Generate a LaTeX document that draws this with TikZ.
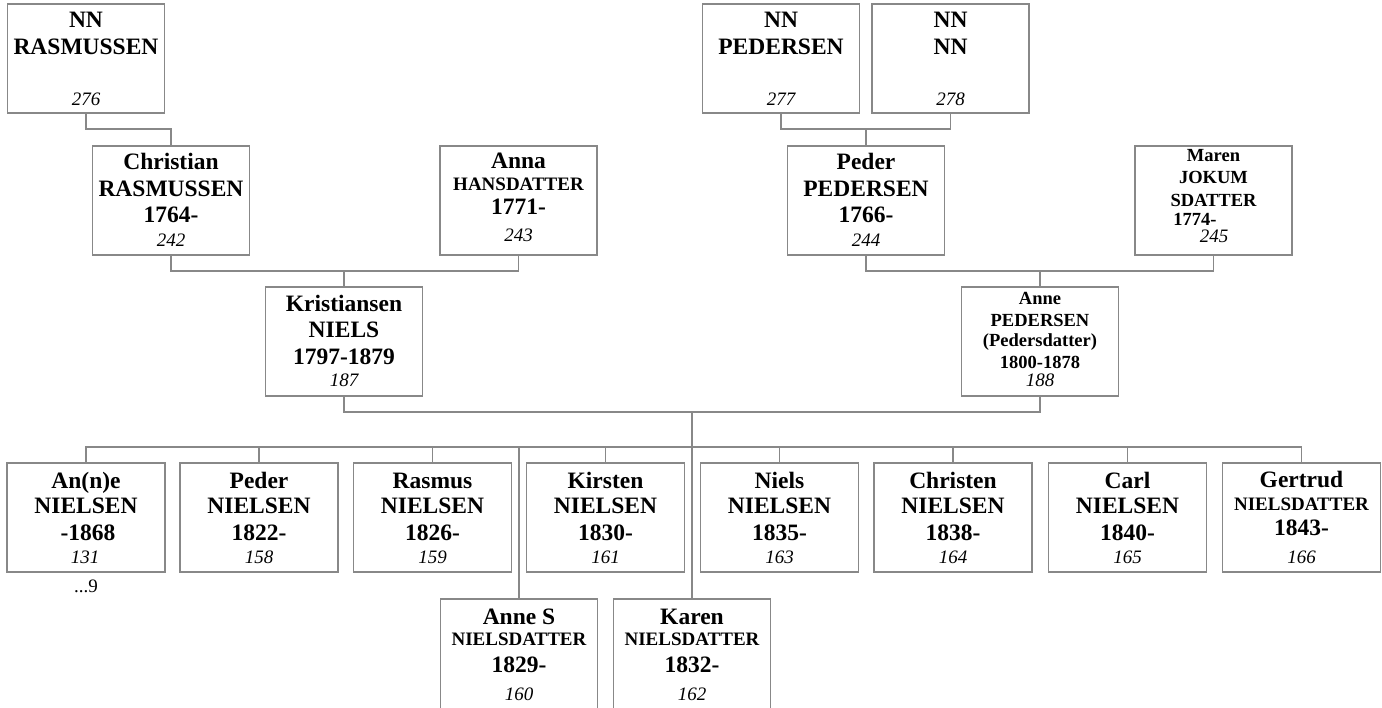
\documentclass[tikz,border=0pt]{standalone}
\usepackage{fontspec}
\setmainfont{Liberation Serif}
\definecolor{linegray}{RGB}{136,136,136}
\newcounter{tlc}
\newcommand\tline[4]{\stepcounter{tlc}\node[txt,#3] (tl\arabic{tlc}) at (#1,#2) {#4};}
\begin{document}
\begin{tikzpicture}[x=1pt,y=-1pt,
  box/.style={draw=linegray,line width=1.4pt,minimum width=157pt,minimum height=109pt,inner sep=0pt,outer sep=0pt,anchor=north},
  conn/.style={draw=linegray,line width=1.4pt},
  txt/.style={anchor=base,inner sep=0pt},
  big/.style={font=\fontsize{23.5}{26}\selectfont\bfseries},
  sm/.style={font=\fontsize{19}{22}\selectfont\bfseries},
  xs/.style={font=\fontsize{18.5}{21}\selectfont\bfseries},
  num/.style={font=\fontsize{19}{22}\selectfont\itshape},
  plain/.style={font=\fontsize{19}{22}\selectfont}]
\useasboundingbox (0,0) rectangle (1382,708);
\begin{scope}
\clip (0,0) rectangle (1382,708);
% boxes
\node[box] (p276) at (86,4) {};
\node[box] (p277) at (781,4) {};
\node[box] (p278) at (950.5,4) {};
\node[box] (p242) at (171,146) {};
\node[box] (p243) at (518.5,146) {};
\node[box] (p244) at (866,146) {};
\node[box] (p245) at (1213.5,146) {};
\node[box] (p187) at (344,287) {};
\node[box] (p188) at (1040,287) {};
\node[box,minimum width=158pt] (p131) at (86,463) {};
\node[box,minimum width=158pt] (p158) at (259,463) {};
\node[box,minimum width=158pt] (p159) at (432.5,463) {};
\node[box,minimum width=158pt] (p161) at (605.5,463) {};
\node[box,minimum width=158pt] (p163) at (779.5,463) {};
\node[box,minimum width=158pt] (p164) at (953,463) {};
\node[box,minimum width=158pt] (p165) at (1127.5,463) {};
\node[box,minimum width=158pt] (p166) at (1301.5,463) {};
\node[box,minimum height=114pt] (p160) at (519,599) {};
\node[box,minimum height=114pt] (p162) at (692,599) {};
% connectors
\coordinate (m244) at (866,130);
\coordinate (m187) at (344,271);
\coordinate (m188) at (1040,271);
\coordinate (fam) at (692,412);
\draw[conn] (p276.south) -- ++(0,16) -| (p242.north);
\draw[conn] (p277.south) -- ++(0,16) -| (p278.south);
\draw[conn] (p244.north) -- (m244);
\draw[conn] (p242.south) -- ++(0,16) -| (p243.south);
\draw[conn] (p187.north) -- (m187);
\draw[conn] (p244.south) -- ++(0,16) -| (p245.south);
\draw[conn] (p188.north) -- (m188);
\draw[conn] (p187.south) -- ++(0,16) -| (p188.south);
\draw[conn] (fam) -- (p162.north);
\draw[conn] (p131.north) -- ++(0,-16) -| (p166.north);
\foreach \c in {p158,p159,p161,p163,p164,p165} \draw[conn] (\c.north) -- ++(0,-16);
\draw[conn] (p160.north) -- ++(0,-152);
\end{scope}
% texts
\tline{86}{28}{big}{NN}
\tline{86}{55}{big}{RASMUSSEN}
\tline{86}{106}{num}{276}
\tline{781}{28}{big}{NN}
\tline{781}{55}{big}{PEDERSEN}
\tline{781}{106}{num}{277}
\tline{950.5}{28}{big}{NN}
\tline{950.5}{55}{big}{NN}
\tline{950.5}{106}{num}{278}
\tline{171}{170}{big}{Christian}
\tline{171}{197}{big}{RASMUSSEN}
\tline{171}{223}{big}{1764-}
\tline{171}{247}{num}{242}
\tline{518.5}{169}{big}{Anna}
\tline{518.5}{191}{sm}{HANSDATTER}
\tline{518.5}{215}{big}{1771-}
\tline{518.5}{242}{num}{243}
\tline{866}{170}{big}{Peder}
\tline{866}{197}{big}{PEDERSEN}
\tline{866}{223}{big}{1766-}
\tline{866}{247}{num}{244}
\tline{1213.5}{162}{xs}{Maren}
\tline{1213.5}{184}{xs}{JOKUM}
\tline{1213.5}{207}{xs}{SDATTER}
\tline{1195}{226}{xs}{1774-}
\tline{1214}{243}{num}{245}
\tline{344}{312}{big}{Kristiansen}
\tline{344}{338}{big}{NIELS}
\tline{344}{365}{big}{1797-1879}
\tline{344}{387}{num}{187}
\tline{1040}{305}{xs}{Anne}
\tline{1040}{327}{xs}{PEDERSEN}
\tline{1040}{347}{xs}{(Pedersdatter)}
\tline{1040}{369}{xs}{1800-1878}
\tline{1040}{387}{num}{188}
% children
\tline{86}{488}{big}{An(n)e}
\tline{86}{513}{big}{NIELSEN}
\tline{88}{540}{big}{-1868}
\tline{85}{563}{num}{131}
\tline{86}{592}{plain}{...9}
\tline{259}{488}{big}{Peder}
\tline{259}{513}{big}{NIELSEN}
\tline{259}{540}{big}{1822-}
\tline{259}{563}{num}{158}
\tline{432.5}{488}{big}{Rasmus}
\tline{432.5}{513}{big}{NIELSEN}
\tline{432.5}{540}{big}{1826-}
\tline{432.5}{563}{num}{159}
\tline{605.5}{488}{big}{Kirsten}
\tline{605.5}{513}{big}{NIELSEN}
\tline{605.5}{540}{big}{1830-}
\tline{605.5}{563}{num}{161}
\tline{779.5}{488}{big}{Niels}
\tline{779.5}{513}{big}{NIELSEN}
\tline{779.5}{540}{big}{1835-}
\tline{779.5}{563}{num}{163}
\tline{953}{488}{big}{Christen}
\tline{953}{513}{big}{NIELSEN}
\tline{953}{540}{big}{1838-}
\tline{953}{563}{num}{164}
\tline{1127.5}{488}{big}{Carl}
\tline{1127.5}{513}{big}{NIELSEN}
\tline{1127.5}{540}{big}{1840-}
\tline{1127.5}{563}{num}{165}
\tline{1301.5}{487}{big}{Gertrud}
\tline{1301.5}{510}{sm}{NIELSDATTER}
\tline{1301.5}{535}{big}{1843-}
\tline{1301.5}{563}{num}{166}
\tline{519}{624}{big}{Anne S}
\tline{519}{645}{sm}{NIELSDATTER}
\tline{519}{672}{big}{1829-}
\tline{519}{700}{num}{160}
\tline{692}{624}{big}{Karen}
\tline{692}{645}{sm}{NIELSDATTER}
\tline{692}{672}{big}{1832-}
\tline{692}{700}{num}{162}
\end{tikzpicture}
\end{document}
